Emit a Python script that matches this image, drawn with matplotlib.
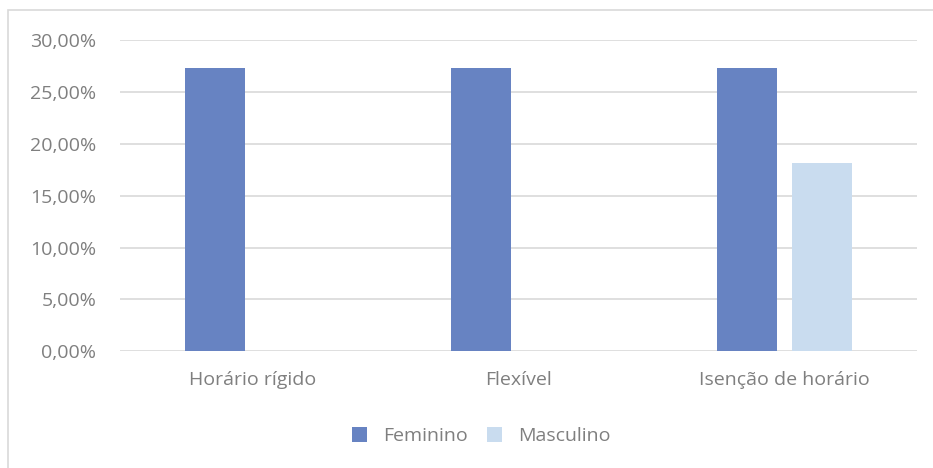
import matplotlib
import matplotlib.pyplot as plt
import numpy as np
from matplotlib.ticker import FuncFormatter

matplotlib.use('Agg')

categorias = ['Horário rígido', 'Flexível', 'Isenção de horário']
feminino = [27.27, 27.27, 27.27]
masculino = [0.0, 0.0, 18.18]

cor_fem = '#6783C2'
cor_masc = '#C9DCEF'
cinza = '#7F7F7F'

plt.rcParams['font.family'] = ['Open Sans', 'DejaVu Sans']

fig = plt.figure(figsize=(9.33, 4.68), dpi=100)
ax = fig.add_axes([120 / 933, 1 - 351.3 / 468, 797 / 933, 311.3 / 468])

# moldura cinza (cortada à direita e em baixo)
fig.patches.append(plt.Rectangle((8 / 933, -0.05), 1.0, 1.05 - 10 / 468,
                                 transform=fig.transFigure, fill=False,
                                 edgecolor='#D9D9D9', linewidth=1.2))

x = np.arange(len(categorias))
largura = 0.226
desloc = 0.141
ax.bar(x - desloc, feminino, largura, color=cor_fem, label='Feminino', zorder=3)
ax.bar(x + desloc, masculino, largura, color=cor_masc, label='Masculino', zorder=3)

ax.set_xlim(-0.5, 2.5)
ax.set_ylim(0, 30)
ax.set_yticks(np.arange(0, 30.1, 5))
ax.yaxis.set_major_formatter(FuncFormatter(lambda v, p: f'{v:.2f}%'.replace('.', ',')))
ax.set_xticks(x)
ax.set_xticklabels(categorias)
ax.tick_params(axis='both', length=0, colors=cinza, labelsize=14)
ax.tick_params(axis='x', pad=14)
ax.tick_params(axis='y', pad=17)
ax.grid(axis='y', color='#D9D9D9', linewidth=1.2, zorder=0)
for s in ax.spines.values():
    s.set_visible(False)

fig.legend(loc='center', bbox_to_anchor=(481 / 933, 1 - 436 / 468), ncol=2,
           frameon=False, fontsize=14, labelcolor=cinza, handlelength=0.8,
           handleheight=0.8, handletextpad=0.8, columnspacing=1.0)

plt.savefig('out.png', dpi=100)
